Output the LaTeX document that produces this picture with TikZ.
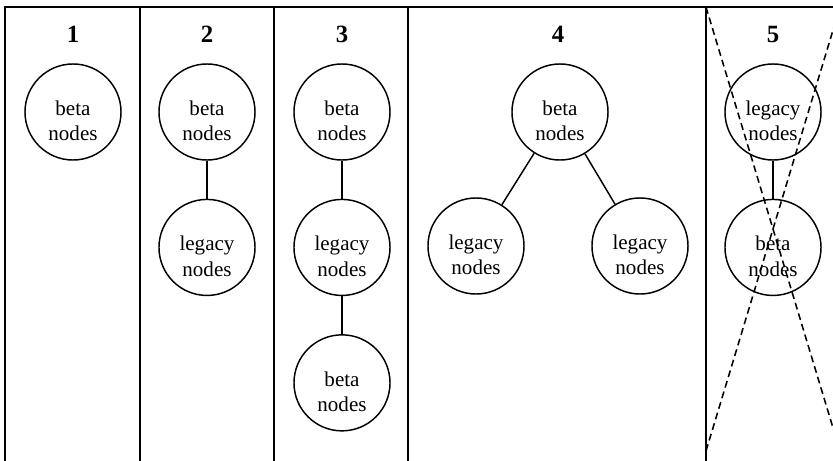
\documentclass[tikz,border=0pt]{standalone}
\usepackage{fontspec}
\setmainfont{Liberation Serif}
\usepackage{tikz}
\usetikzlibrary{positioning}

\begin{document}
\begin{tikzpicture}[
        x=0.58pt, y=-0.58pt,
        node distance=22pt,
        tier/.style={circle, draw=black, line width=0.85pt, minimum size=55.7pt, inner sep=0pt, align=center, text height=33.3pt, text depth=0.1pt, font=\fontsize{12.2}{14.6}\selectfont},
        caption/.style={anchor=base, font=\fontsize{14.4}{17}\selectfont\bfseries},
        frame/.style={line width=0.9pt},
        link/.style={line width=0.85pt},
        cross/.style={line width=0.9pt, dash pattern=on 4pt off 2.4pt}
    ]
    \useasboundingbox (0,0) rectangle (833,461);

        % ===== 分栏 =====
        \draw [frame] (5,461) -- (5,7) -- (833,7);
        \foreach \x in {140,274,408,706}
            \draw [frame] (\x,7) -- (\x,461);

        % ===== 标题 =====
        \node (title1) [caption] at (73,43) {1};
        \node (title2) [caption] at (207,43) {2};
        \node (title3) [caption] at (342,43) {3};
        \node (title4) [caption] at (558,43) {4};
        \node (title5) [caption] at (773,43) {5};

        % ===== 节点 =====
        \node (beta1) [tier] at (73,112) {beta\\nodes};

        \node (beta2) [tier] at (207,112) {beta\\nodes};
        \node (legacy2) [tier, below=of beta2] {legacy\\nodes};

        \node (beta3a) [tier] at (342,112) {beta\\nodes};
        \node (legacy3) [tier, below=of beta3a] {legacy\\nodes};
        \node (beta3b) [tier, below=of legacy3] {beta\\nodes};

        \node (beta4) [tier] at (560,112) {beta\\nodes};
        \node (legacy4a) [tier] at (476,246) {legacy\\nodes};
        \node (legacy4b) [tier] at (640,246) {legacy\\nodes};

        \node (legacy5) [tier] at (773,112) {legacy\\nodes};
        \node (beta5) [tier, below=of legacy5] {beta\\nodes};

        % ===== 连线 =====
        \draw [link] (beta2) -- (legacy2);
        \draw [link] (beta3a) -- (legacy3);
        \draw [link] (legacy3) -- (beta3b);
        \draw [link] (beta4) -- (legacy4a);
        \draw [link] (beta4) -- (legacy4b);
        \draw [link] (legacy5) -- (beta5);

        % 第5栏划叉
        \coordinate (crossTL) at (706,7);
        \coordinate (crossBR) at (840,451);
        \coordinate (crossBL) at (706,451);
        \coordinate (crossTR) at (840,7);
        \begin{scope}
            \clip (0,0) rectangle (833,461);
            \draw [cross] (crossTL) -- (crossBR);
            \draw [cross] (crossBL) -- (crossTR);
        \end{scope}

    \end{tikzpicture}
\end{document}
